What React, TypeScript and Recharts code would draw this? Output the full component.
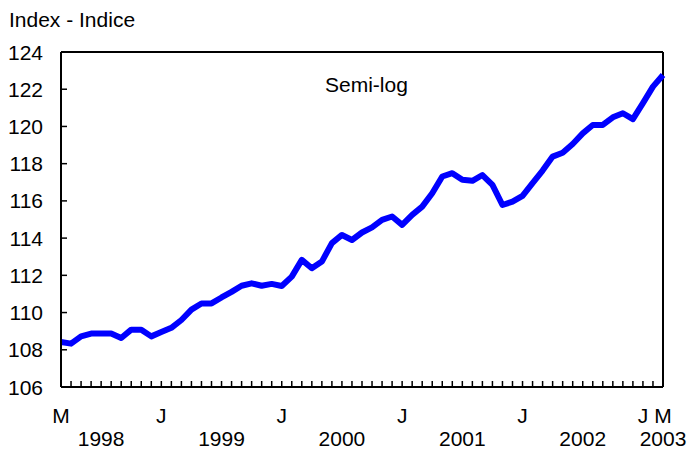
import { Line, LineChart, ReferenceLine, XAxis, YAxis } from 'recharts'

// monthly index, March 1998 to March 2003
const startYear = 1998
const startMonth = 2 // March (0-based)
const indexValues = [
  108.42, 108.33, 108.72, 108.87, 108.87, 108.87, 108.63, 109.08, 109.08, 108.72,
  108.95, 109.18, 109.6, 110.16, 110.49, 110.49, 110.81, 111.11, 111.44, 111.57,
  111.44, 111.54, 111.43, 111.93, 112.83, 112.38, 112.74, 113.73, 114.17, 113.9,
  114.3, 114.58, 114.98, 115.16, 114.71, 115.25, 115.69, 116.41, 117.31, 117.49,
  117.13, 117.08, 117.39, 116.86, 115.78, 115.96, 116.27, 116.95, 117.63, 118.38,
  118.59, 119.06, 119.63, 120.08, 120.08, 120.49, 120.71, 120.39, 121.25, 122.14,
  122.76,
]
const monthLetters = ['J', 'F', 'M', 'A', 'M', 'J', 'J', 'A', 'S', 'O', 'N', 'D']
const yTicks = [106, 108, 110, 112, 114, 116, 118, 120, 122, 124]

const data = indexValues.map((v, i) => ({ i, v }))
const lastIdx = indexValues.length - 1
const monthTicks = indexValues.map((_, i) => i)

const monthOf = (i: number) => (startMonth + i) % 12
const yearOf = (i: number) => startYear + Math.floor((startMonth + i) / 12)

// month letter under first, last and every January
const monthLabel = (i: number) => {
  if (i === 0 || i === lastIdx || monthOf(i) === 0) return monthLetters[monthOf(i)]
  return ''
}
// year label under July of each year (or last month for the final year)
const yearLabel = (i: number) => {
  if (monthOf(i) === 6 || (i === lastIdx && monthOf(i) < 6)) return String(yearOf(i))
  return ''
}

const font = '"Liberation Sans", Arial, sans-serif'
const fontSize = 21

const MonthTick = (props: any) => {
  const { x, y, payload } = props
  const i = payload.value
  return (
    <g>
      {i !== lastIdx && <line x1={x} x2={x} y1={y} y2={y - 6} stroke="#000" strokeWidth={1.5} />}
      <text x={x} y={y + 36} textAnchor="middle" fontSize={fontSize} fill="#000" fontFamily={font}>
        {monthLabel(i)}
      </text>
      <text x={x} y={y + 59} textAnchor="middle" fontSize={fontSize} fill="#000" fontFamily={font}>
        {yearLabel(i)}
      </text>
    </g>
  )
}

const ValueTick = (props: any) => {
  const { x, y, payload } = props
  return (
    <g>
      <line x1={x} x2={x + 6} y1={y} y2={y} stroke="#000" strokeWidth={1.5} />
      <text x={x - 18} y={y} dy="0.36em" textAnchor="end" fontSize={fontSize} fill="#000" fontFamily={font}>
        {payload.value}
      </text>
    </g>
  )
}

const App = () => {
  return (
    <div style={{ position: 'absolute', left: 0, top: 0, width: 692, height: 450, background: '#fff', fontFamily: font }}>
      <div style={{ position: 'absolute', left: 9, top: 9, fontSize, lineHeight: 1, color: '#000' }}>Index - Indice</div>
      <div style={{ position: 'absolute', left: 325, top: 74, fontSize, lineHeight: 1, color: '#000' }}>Semi-log</div>
      <LineChart width={692} height={450} data={data} margin={{ top: 52, right: 29, bottom: 0, left: 0 }}>
        <XAxis
          dataKey="i"
          type="number"
          domain={[0, lastIdx]}
          ticks={monthTicks}
          interval={0}
          height={63}
          tickSize={0}
          tickMargin={0}
          tick={<MonthTick />}
          axisLine={{ stroke: '#000', strokeWidth: 2 }}
          tickLine={false}
        />
        <YAxis
          domain={[106, 124]}
          ticks={yTicks}
          interval={0}
          width={61}
          tickSize={0}
          tickMargin={0}
          tick={<ValueTick />}
          axisLine={{ stroke: '#000', strokeWidth: 2 }}
          tickLine={false}
        />
        <ReferenceLine y={124} stroke="#000" strokeWidth={2} />
        <ReferenceLine x={lastIdx} stroke="#000" strokeWidth={2} />
        <Line
          type="linear"
          dataKey="v"
          stroke="#0000ff"
          strokeWidth={6}
          strokeLinejoin="round"
          dot={false}
          isAnimationActive={false}
        />
      </LineChart>
    </div>
  )
}

export default App
